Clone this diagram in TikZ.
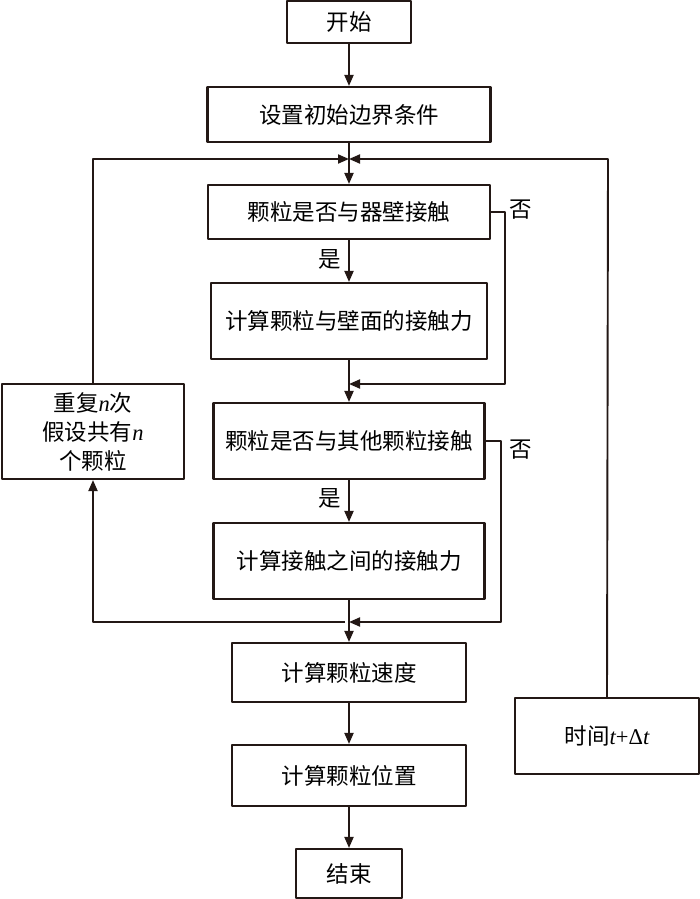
\documentclass[tikz,border=0pt]{standalone}
\usepackage{fontspec}
\setmainfont{Liberation Serif}
\newfontfamily\cjk{Noto Sans CJK SC}
\usetikzlibrary{arrows.meta}
\definecolor{ink}{RGB}{35,24,21}
\newcommand{\lt}[1]{{\rmfamily\itshape #1}}
\begin{document}
\begin{tikzpicture}[x=1pt, y=-1pt, line join=round, >={Triangle[length=11pt,width=9pt]},
    font=\cjk\fontsize{22.5}{29}\selectfont, line width=1.9pt, draw=ink,
    box/.style={draw=ink, line width=2.1pt, inner sep=0pt, align=center, text=black},
    lab/.style={inner sep=0pt, text=black}]
	\useasboundingbox (0,0) rectangle (700,899);
	\def\cx{349} %centre line
	% main column
	\node[box, minimum width=124pt, minimum height=42pt] (start) at (\cx,22) {开始};
	\node[box, minimum width=283pt, minimum height=55pt] (init) at (\cx,114.5) {设置初始边界条件};
	\node[box, minimum width=282pt, minimum height=54pt] (wall) at (\cx,212) {颗粒是否与器壁接触};
	\node[box, minimum width=276pt, minimum height=76pt] (wallf) at (\cx,321) {计算颗粒与壁面的接触力};
	\node[box, minimum width=271pt, minimum height=76pt] (other) at (\cx,441) {颗粒是否与其他颗粒接触};
	\node[box, minimum width=271pt, minimum height=76pt] (otherf) at (\cx,561) {计算接触之间的接触力};
	\node[box, minimum width=234pt, minimum height=59pt] (vel) at (\cx,672.5) {计算颗粒速度};
	\node[box, minimum width=234pt, minimum height=61pt] (pos) at (\cx,775.5) {计算颗粒位置};
	\node[box, minimum width=106pt, minimum height=49pt] (stop) at (\cx,873.5) {结束};
	% side boxes
	\node[box, minimum width=182pt, minimum height=95pt] (rep) at (93,431.5)
		{重复\lt{n}次\\假设共有\lt{n}\\个颗粒};
	\node[box, minimum width=184pt, minimum height=76pt] (time) at (607,736)
		{时间\lt{t}{\rmfamily +Δ}\lt{t}};
	% junctions
	\coordinate (j1) at (\cx,159);
	\coordinate (j2) at (\cx,384);
	\coordinate (j3) at (\cx,622);
	% labels
	\node[lab] (yes1) at (330,259) {是};
	\node[lab] (yes2) at (330,498) {是};
	\node[lab] (no1) at (521,210) {否};
	\node[lab] (no2) at (521,450) {否};
	% connectors
	\draw[->] (start) -- (init);
	\draw[->] (init) -- (wall);
	\draw[->] (wall) -- (wallf);
	\draw[->] (wallf) -- (other);
	\draw[->] (other) -- (otherf);
	\draw[->] (otherf) -- (vel);
	\draw[->] (vel) -- (pos);
	\draw[->] (pos) -- (stop);
	\draw[->] (wall.east) -- (505,212) -- (505,384) -- (j2);
	\draw[->] (other.east) -- (501,441) -- (501,622) -- (j3);
	\draw[->] ([xshift=-4pt]j3) -- (93,622) -- (rep.south);
	\draw[->] (rep.north) -- (93,159) -- (j1);
	\draw[->] (time.north) -- (608,159) -- (j1);
\end{tikzpicture}
\end{document}
